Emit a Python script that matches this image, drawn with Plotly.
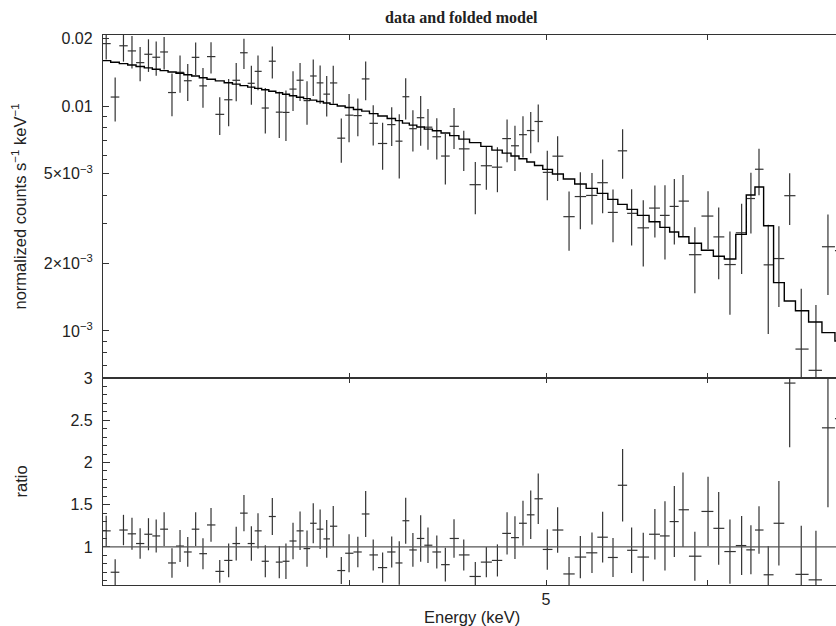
import numpy as np
import plotly.graph_objects as go

# ---------------- data ----------------
energy = [3.038, 3.069, 3.098, 3.128, 3.157, 3.187, 3.215, 3.244, 3.273, 3.303,
          3.332, 3.362, 3.390, 3.421, 3.455, 3.490, 3.520, 3.551, 3.581, 3.608,
          3.638, 3.667, 3.696, 3.724, 3.754, 3.784, 3.814, 3.841, 3.871, 3.900,
          3.929, 3.965, 4.000, 4.040, 4.076, 4.111, 4.155, 4.198, 4.234, 4.265,
          4.300, 4.338, 4.374, 4.418, 4.461, 4.505, 4.555, 4.615, 4.673, 4.732,
          4.784, 4.827, 4.871, 4.914, 4.956, 5.007, 5.066, 5.132, 5.198, 5.267,
          5.331, 5.394, 5.453, 5.509, 5.582, 5.656, 5.721, 5.782, 5.839, 5.918,
          6.007, 6.080, 6.158, 6.240, 6.306, 6.364, 6.431, 6.509, 6.589, 6.676,
          6.788, 6.881, 6.991]

model = [0.01593, 0.01567, 0.01545, 0.01523, 0.01500, 0.01478, 0.01459, 0.01438, 0.01418, 0.01399,
         0.01379, 0.01361, 0.01337, 0.01317, 0.01294, 0.01270, 0.01252, 0.01233, 0.01214, 0.01199,
         0.01181, 0.01164, 0.01146, 0.01129, 0.01112, 0.01095, 0.01079, 0.01063, 0.01048, 0.01032,
         0.01018, 0.01000, 0.00985, 0.00965, 0.00950, 0.00926, 0.00903, 0.00880, 0.00862, 0.00840,
         0.00823, 0.00807, 0.00790, 0.00777, 0.00759, 0.00739, 0.00713, 0.00688, 0.00662, 0.00637,
         0.00618, 0.00600, 0.00583, 0.00564, 0.00544, 0.00523, 0.00499, 0.00474, 0.00450, 0.004307,
         0.004093, 0.003848, 0.003656, 0.003474, 0.003267, 0.003060, 0.002890, 0.002754, 0.002625, 0.002454,
         0.002284, 0.002148, 0.002089, 0.002690, 0.004022, 0.004365, 0.002938, 0.001640, 0.001359, 0.001231,
         0.001096, 0.000983, 0.000903]

ratio = [1.19, 0.70, 1.20, 1.155, 1.04, 1.15, 1.13, 1.21, 0.81, 1.01,
         0.94, 1.21, 0.92, 1.26, 0.71, 0.84, 1.04, 1.40, 1.04, 1.19,
         0.83, 1.36, 0.82, 0.83, 1.07, 1.19, 0.98, 1.28, 1.21, 1.095,
         1.245, 0.72, 0.925, 0.94, 1.39, 0.905, 0.755, 0.94, 0.81, 1.31,
         0.964, 1.10, 1.02, 0.94, 0.79, 1.10, 0.905, 0.65, 0.82, 0.84,
         1.16, 1.11, 1.28, 1.38, 1.57, 0.97, 1.20, 0.68, 0.88, 0.93,
         1.115, 0.875, 1.73, 0.96, 0.88, 1.15, 1.13, 1.30, 1.44, 0.89,
         1.42, 1.22, 0.945, 1.016, 0.965, 1.20, 0.67, 1.28, 2.94, 0.675,
         0.61, 2.41, 2.52]

ratio_err = [0.18, 0.155, 0.18, 0.19, 0.18, 0.19, 0.196, 0.20, 0.174, 0.19,
             0.176, 0.20, 0.184, 0.20, 0.135, 0.20, 0.20, 0.216, 0.204, 0.21,
             0.19, 0.22, 0.19, 0.21, 0.216, 0.228, 0.214, 0.236, 0.234, 0.224,
             0.24, 0.16, 0.224, 0.18, 0.273, 0.184, 0.178, 0.184, 0.257, 0.273,
             0.20, 0.275, 0.21, 0.196, 0.20, 0.228, 0.184, 0.17, 0.178, 0.19,
             0.25, 0.253, 0.267, 0.287, 0.30, 0.24, 0.27, 0.20, 0.25, 0.24,
             0.30, 0.23, 0.43, 0.27, 0.287, 0.30, 0.41, 0.42, 0.44, 0.29,
             0.41, 0.43, 0.38, 0.35, 0.29, 0.28, 0.34, 0.50, 0.76, 0.577,
             0.58, 0.94, 0.90]

x_tickvals = [4, 5, 6]
x_ticktext = ["", "5", ""]
rate_tickvals = [0.001, 0.002, 0.005, 0.01, 0.02]
rate_ticktext = ["10<sup>−3</sup>", "2×10<sup>−3</sup>", "5×10<sup>−3</sup>", "0.01", "0.02"]
rate_minorvals = [7e-4, 8e-4, 9e-4, 3e-3, 4e-3, 6e-3, 7e-3, 8e-3, 9e-3]
ratio_tickvals = [1, 1.5, 2, 2.5, 3]
ratio_ticktext = ["1", "1.5", "2", "2.5", "3"]

# ---------------- derived quantities ----------------
e = np.array(energy)
m = np.array(model)
r = np.array(ratio)
rerr = np.array(ratio_err)
mid = np.sqrt(e[:-1] * e[1:])
lo = np.concatenate([[e[0] ** 2 / mid[0]], mid])
hi = np.concatenate([mid, [e[-1] ** 2 / mid[-1]]])
data = r * m
data_err = rerr * m

INK = "#333333"
TXT = "#222222"
FONT = "Liberation Sans, Arial, sans-serif"

fig = go.Figure()

errx = dict(type="data", symmetric=False, array=hi - e, arrayminus=e - lo,
            color=INK, thickness=1.2, width=0)

fig.add_trace(go.Scatter(
    x=e, y=data, xaxis="x2", yaxis="y2", mode="markers",
    marker=dict(size=2, opacity=0),
    error_x=errx,
    error_y=dict(type="data", array=data_err, color=INK, thickness=1.2, width=0),
    hoverinfo="skip"))

fig.add_trace(go.Scatter(
    x=list(lo) + [hi[-1]], y=list(m) + [m[-1]], xaxis="x2", yaxis="y2",
    mode="lines", line=dict(shape="hv", color="#000000", width=1.4),
    hoverinfo="skip"))

fig.add_trace(go.Scatter(
    x=e, y=r, xaxis="x", yaxis="y", mode="markers",
    marker=dict(size=2, opacity=0),
    error_x=errx,
    error_y=dict(type="data", array=rerr, color=INK, thickness=1.2, width=0),
    hoverinfo="skip"))

W, H = 836, 626
ML, MT, MB = 103, 35, 41
plot_h = H - MT - MB
split = (585 - 378) / plot_h
xrange = [np.log10(3.027), np.log10(6.944)]

common_x = dict(type="log", range=xrange, tickvals=x_tickvals, ticktext=x_ticktext,
                ticks="inside", ticklen=5, tickwidth=1.1, tickcolor=INK,
                showline=True, mirror="ticks", linecolor=INK, linewidth=1.3,
                showgrid=False, zeroline=False,
                tickfont=dict(family=FONT, size=16, color=TXT))

fig.update_layout(
    width=W, height=H,
    margin=dict(l=ML, r=0, t=MT, b=MB),
    paper_bgcolor="white", plot_bgcolor="white",
    showlegend=False,
    xaxis=dict(**common_x, anchor="y", domain=[0, 1]),
    xaxis2=dict(**common_x, anchor="y2", domain=[0, 1], matches="x", showticklabels=False),
    yaxis=dict(domain=[0, split], range=[0.549, 3.0], tickvals=ratio_tickvals,
               ticktext=ratio_ticktext, ticks="inside", ticklen=7, tickwidth=1.1,
               tickcolor=INK, minor=dict(dtick=0.1, ticklen=4, ticks="inside", tickcolor=INK),
               showline=True, linecolor=INK, linewidth=1.3, showgrid=False, zeroline=False,
               ticklabelstandoff=6,
               tickfont=dict(family=FONT, size=16, color=TXT)),
    yaxis2=dict(domain=[split, 1], type="log", range=[-3.209, -1.684],
                tickvals=rate_tickvals, ticktext=rate_ticktext, ticks="inside",
                ticklen=6, tickwidth=1.1, tickcolor=INK,
                minor=dict(tickmode="array", tickvals=rate_minorvals, ticklen=4,
                           ticks="inside", tickcolor=INK),
                showline=True, linecolor=INK, linewidth=1.3, showgrid=False, zeroline=False,
                ticklabelstandoff=6,
                tickfont=dict(family=FONT, size=16, color=TXT)),
    shapes=[dict(type="line", xref="x domain", yref="y", x0=0, x1=1, y0=1, y1=1,
                 line=dict(color="#555555", width=1.2))],
    annotations=[
        dict(text="<b>data and folded model</b>", xref="paper", yref="paper",
             x=(461 - 103) / 733.0, y=1, yshift=18, xanchor="center", yanchor="middle",
             showarrow=False, font=dict(family="Liberation Serif, Times New Roman, serif",
                                        size=16, color=TXT)),
        dict(text="normalized counts s<sup>−1</sup> keV<sup>−1</sup>", xref="paper", yref="paper",
             x=0, xshift=-83, y=(1 + split) / 2, textangle=-90, xanchor="center",
             yanchor="middle", showarrow=False,
             font=dict(family=FONT, size=16.5, color=TXT)),
        dict(text="ratio", xref="paper", yref="paper", x=0, xshift=-83, y=split / 2,
             textangle=-90, xanchor="center", yanchor="middle", showarrow=False,
             font=dict(family=FONT, size=16.5, color=TXT)),
        dict(text="Energy (keV)", xref="paper", yref="paper", x=(472 - 103) / 733.0, y=0,
             yshift=-32, xanchor="center", yanchor="middle", showarrow=False,
             font=dict(family=FONT, size=16.5, color=TXT)),
    ],
)

fig.write_html("out.html",
               config={"displayModeBar": False},
               post_script="document.body.style.margin='0';document.body.style.overflow='hidden';")
